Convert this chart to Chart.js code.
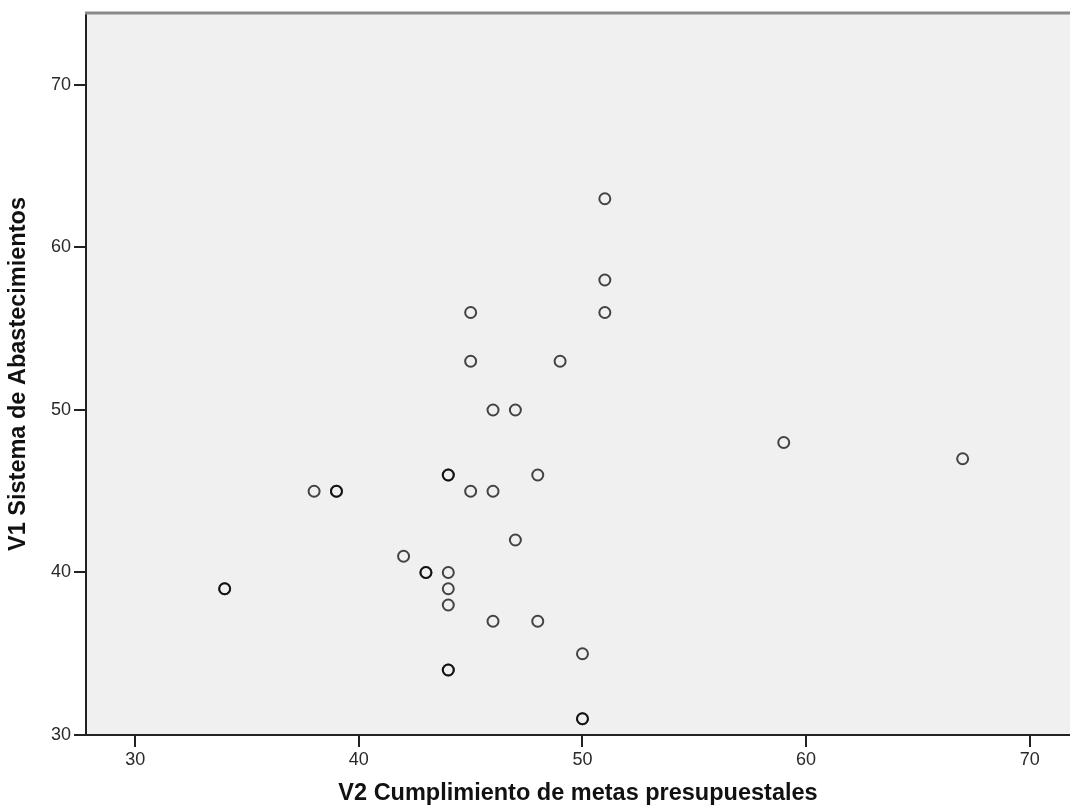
<!DOCTYPE html>
<html>
<head>
<meta charset="utf-8">
<script src="https://cdn.jsdelivr.net/npm/chart.js@4/dist/chart.umd.min.js"></script>
<style>
html,body{margin:0;padding:0;background:#fff;}
#wrap{width:1070px;height:809px;position:relative;}
</style>
</head>
<body>
<div id="wrap"><canvas id="c" width="1070" height="809"></canvas></div>
<script>
// V2 Cumplimiento de metas presupuestales (x) vs V1 Sistema de Abastecimientos (y)
// Repeated pairs are overlapping cases (drawn darker in the reference).
const v2Values = [51, 51, 51, 45, 45, 49, 46, 47, 59, 67, 44, 44, 48, 38, 39, 39, 45, 46, 47, 42, 43, 43, 44, 44, 44, 34, 34, 46, 48, 50, 44, 44, 50, 50];
const v1Values = [63, 58, 56, 56, 53, 53, 50, 50, 48, 47, 46, 46, 46, 45, 45, 45, 45, 45, 42, 41, 40, 40, 40, 39, 38, 39, 39, 37, 37, 35, 34, 34, 31, 31];
const xTicks = [30, 40, 50, 60, 70];
const yTicks = [30, 40, 50, 60, 70];
const xTitle = 'V2 Cumplimiento de metas presupuestales';
const yTitle = 'V1 Sistema de Abastecimientos';

const points = v2Values.map((x, i) => ({x: x, y: v1Values[i]}));

const bgPlugin = {
  id: 'bg',
  beforeDraw(chart) {
    const {ctx, chartArea: a} = chart;
    ctx.save();
    ctx.fillStyle = '#f0f0f0';
    ctx.fillRect(a.left, a.top, a.right - a.left, a.bottom - a.top);
    ctx.restore();
  },
  afterDraw(chart) {
    const {ctx, chartArea: a} = chart;
    ctx.save();
    ctx.strokeStyle = '#8a8a8a';
    ctx.lineWidth = 3;
    ctx.beginPath();
    ctx.moveTo(a.left - 1, a.top);
    ctx.lineTo(a.right, a.top);
    ctx.stroke();
    ctx.restore();
  }
};

const tickFont = {family: 'Liberation Sans, Arial, sans-serif', size: 18};
const titleFont = {family: 'Liberation Sans, Arial, sans-serif', size: 23.5, weight: 'bold'};

new Chart(document.getElementById('c'), {
  type: 'scatter',
  data: {
    datasets: [{
      data: points,
      pointStyle: 'circle',
      pointRadius: 5.5,
      pointHoverRadius: 5.5,
      borderWidth: 2,
      borderColor: 'rgba(0,0,0,0.72)',
      backgroundColor: 'rgba(0,0,0,0)'
    }]
  },
  options: {
    responsive: false,
    animation: false,
    layout: {autoPadding: false, padding: {top: 13, right: 0, left: 0, bottom: 0}},
    plugins: {legend: {display: false}, tooltip: {enabled: false}},
    scales: {
      x: {
        type: 'linear',
        min: 27.8,
        max: 71.8,
        afterBuildTicks: s => { s.ticks = xTicks.map(v => ({value: v})); },
        afterFit: s => { s.height = 74; s.paddingLeft = 0; s.paddingRight = 0; },
        grid: {drawOnChartArea: false, drawTicks: true, tickLength: 12, color: '#222', lineWidth: 2},
        border: {display: true, color: '#222', width: 2},
        ticks: {color: '#2a2a2a', font: tickFont, padding: 2, maxRotation: 0},
        title: {display: true, text: xTitle, color: '#111', font: titleFont, padding: {top: 0, bottom: 1}}
      },
      y: {
        type: 'linear',
        min: 30,
        max: 74.43,
        afterBuildTicks: s => { s.ticks = yTicks.map(v => ({value: v})); },
        afterFit: s => { s.width = 86; s.paddingTop = 0; s.paddingBottom = 0; },
        grid: {drawOnChartArea: false, drawTicks: true, tickLength: 12, color: '#222', lineWidth: 2},
        border: {display: true, color: '#222', width: 2},
        ticks: {color: '#2a2a2a', font: tickFont, padding: 3},
        title: {display: true, text: yTitle, color: '#111', font: titleFont, padding: {top: 4, bottom: 0}}
      }
    }
  },
  plugins: [bgPlugin]
});
</script>
</body>
</html>
